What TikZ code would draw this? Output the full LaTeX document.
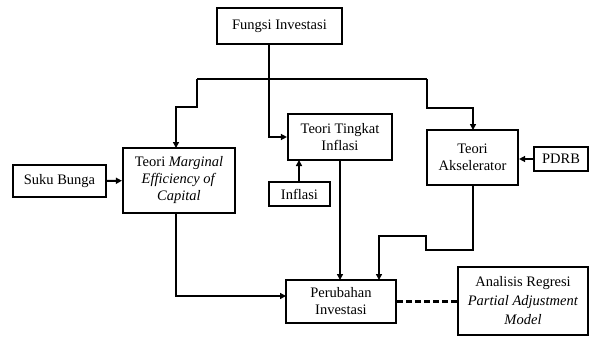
\documentclass[tikz,border=0pt]{standalone}
\usepackage{fontspec}
\setmainfont{Liberation Serif}
\usetikzlibrary{arrows.meta}
\begin{document}
\begin{tikzpicture}[x=1pt,y=-1pt,
  box/.style={draw,line width=2.2pt,align=center,inner sep=1pt,font=\fontsize{14.5}{17}\selectfont},
  arr/.style={line width=2pt,-{Triangle[length=6pt,width=6pt]}},
  ln/.style={line width=2pt}]
\useasboundingbox (0,0) rectangle (589,337);
\node[box,minimum width=125pt,minimum height=36pt] (fungsi) at (279.5,26) {Fungsi Investasi};
\node[box,minimum width=104pt,minimum height=46pt] (tingkat) at (340,137) {Teori Tingkat\\Inflasi};
\node[box,minimum width=61pt,minimum height=24pt] (inflasi) at (299.5,194) {Inflasi};
\node[box,minimum width=112pt,minimum height=65pt] (mec) at (179,180.5) {Teori \textit{Marginal}\\\textit{Efficiency of}\\\textit{Capital}};
\node[box,minimum width=93pt,minimum height=32pt] (suku) at (59.5,181) {Suku Bunga};
\node[box,minimum width=91pt,minimum height=55pt] (aksel) at (472.5,157.5) {Teori\\Akselerator};
\node[box,minimum width=54pt,minimum height=24pt] (pdrb) at (561,159) {PDRB};
\node[box,minimum width=110pt,minimum height=43pt] (perub) at (341,301.5) {Perubahan\\Investasi};
\node[box,minimum width=130pt,minimum height=68pt,font=\fontsize{14.5}{19}\selectfont] (analisis) at (523,301) {Analisis Regresi\\\textit{Partial Adjustment}\\\textit{Model}};
% coordinates
\coordinate (f1) at (269,44);
\coordinate (j) at (269,79);
\coordinate (jl) at (197,79);
\coordinate (jr) at (427,79);
\coordinate (m1) at (176,148);
\coordinate (a1) at (473,130);
\coordinate (i1) at (299,182);
\coordinate (i2) at (299,160);
\coordinate (t1) at (340,160);
\coordinate (p1) at (340,280);
\coordinate (a2) at (473,185);
\coordinate (p2) at (379,280);
\coordinate (m2) at (176,213);
\coordinate (p3) at (286,296);
% connectors
\draw[arr] (f1) |- (tingkat.west);
\draw[ln] (jl) -- (jr);
\draw[arr] (jl) -- (197,107) -| (m1);
\draw[arr] (jr) -- (427,108) -| (a1);
\draw[arr] (i1) -- (i2);
\draw[arr] (t1) -- (p1);
\draw[arr] (suku) -- (mec);
\draw[arr] (pdrb.west) -- (aksel.east |- pdrb.west);
\draw[arr] (a2) -- (473,250) -- (426,250) -- (426,236) -- (379,236) -- (p2);
\draw[arr] (m2) |- (p3);
\draw[line width=2.2pt,dash pattern=on 6pt off 3pt] (perub.east) -- (analisis.west |- perub.east);
\end{tikzpicture}
\end{document}
